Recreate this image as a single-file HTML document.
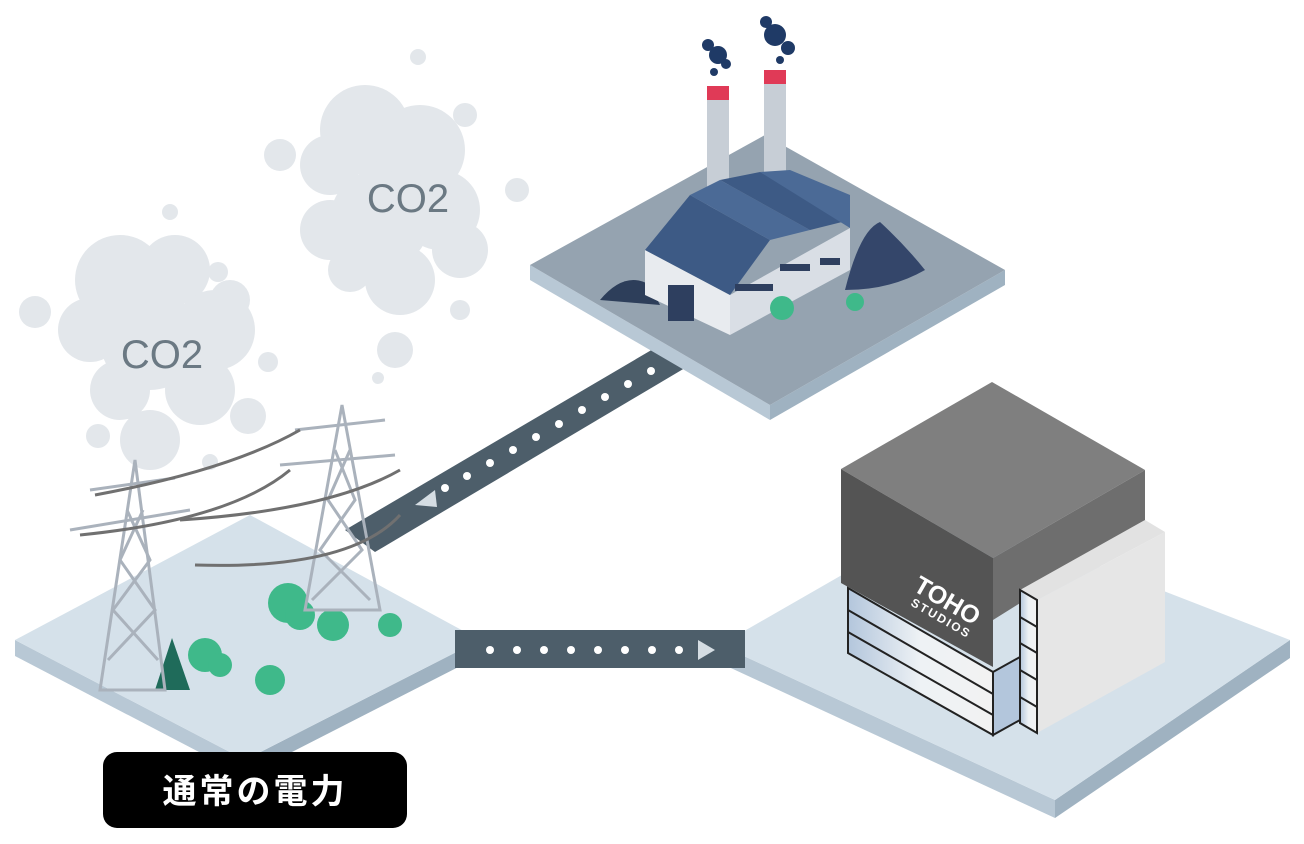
<!DOCTYPE html>
<html><head><meta charset="utf-8"><style>
html,body{margin:0;padding:0;background:#fff;}
svg{display:block}
</style></head><body>
<svg width="1304" height="844" viewBox="0 0 1304 844" xmlns="http://www.w3.org/2000/svg">
<defs>
<linearGradient id="gl" x1="0" x2="1"><stop offset="0" stop-color="#b3c6dc"/><stop offset="0.5" stop-color="#eef2f5"/><stop offset="1" stop-color="#f2f2f2"/></linearGradient>
</defs>
<!-- clouds -->
<g fill="#e3e7eb">
<circle cx="365" cy="130" r="45"/><circle cx="420" cy="150" r="45"/><circle cx="330" cy="165" r="30"/><circle cx="330" cy="230" r="30"/><circle cx="380" cy="220" r="50"/><circle cx="440" cy="210" r="40"/><circle cx="400" cy="280" r="35"/><circle cx="460" cy="250" r="28"/><circle cx="350" cy="270" r="22"/><circle cx="280" cy="155" r="16"/><circle cx="465" cy="115" r="12"/><circle cx="517" cy="190" r="12"/><circle cx="418" cy="57" r="8"/><circle cx="395" cy="350" r="18"/><circle cx="460" cy="310" r="10"/><circle cx="170" cy="212" r="8"/>
<circle cx="120" cy="280" r="45"/><circle cx="175" cy="270" r="35"/><circle cx="90" cy="330" r="32"/><circle cx="150" cy="340" r="50"/><circle cx="215" cy="330" r="40"/><circle cx="200" cy="390" r="35"/><circle cx="120" cy="390" r="30"/><circle cx="150" cy="440" r="30"/><circle cx="230" cy="300" r="20"/><circle cx="35" cy="312" r="16"/><circle cx="248" cy="416" r="18"/><circle cx="98" cy="436" r="12"/><circle cx="268" cy="362" r="10"/><circle cx="218" cy="272" r="10"/><circle cx="210" cy="462" r="8"/><circle cx="378" cy="378" r="6"/>
</g>
<text x="408" y="212" font-family="Liberation Sans, sans-serif" font-size="40" fill="#6b7983" text-anchor="middle">CO2</text>
<text x="162" y="368" font-family="Liberation Sans, sans-serif" font-size="40" fill="#6b7983" text-anchor="middle">CO2</text>
<!-- left platform -->
<polygon points="15,640 245,760 245,776 15,656" fill="#b8c8d5"/>
<polygon points="245,760 480,640 480,656 245,776" fill="#9fb2c1"/>
<polygon points="15,640 250,515 480,640 245,760" fill="#d5e1ea"/>
<!-- right platform -->
<polygon points="720,645 1055,800 1055,818 720,663" fill="#b8c8d5"/>
<polygon points="1055,800 1290,640 1290,658 1055,818" fill="#9fb2c1"/>
<polygon points="720,645 955,510 1290,640 1055,800" fill="#d5e1ea"/>
<!-- connectors -->
<polygon points="345,530 660,345 690,365 375,552" fill="#4d5e6a"/>
<rect x="455" y="630" width="290" height="38" fill="#4d5e6a"/>
<g fill="#fff">
<circle cx="445" cy="488" r="4"/><circle cx="467" cy="476" r="4"/><circle cx="490" cy="463" r="4"/><circle cx="513" cy="450" r="4"/><circle cx="536" cy="437" r="4"/><circle cx="559" cy="424" r="4"/><circle cx="582" cy="410" r="4"/><circle cx="605" cy="397" r="4"/><circle cx="628" cy="384" r="4"/><circle cx="651" cy="371" r="4"/>
<circle cx="490" cy="650" r="4"/><circle cx="517" cy="650" r="4"/><circle cx="544" cy="650" r="4"/><circle cx="571" cy="650" r="4"/><circle cx="598" cy="650" r="4"/><circle cx="625" cy="650" r="4"/><circle cx="652" cy="650" r="4"/><circle cx="679" cy="650" r="4"/>
</g>
<polygon points="415,505 435,490 437,507" fill="#d5dde3"/>
<polygon points="698,640 715,650 698,660" fill="#d5dde3"/>
<!-- factory platform -->
<polygon points="530,265 770,405 770,420 530,280" fill="#b8c8d5"/>
<polygon points="770,405 1005,270 1005,285 770,420" fill="#9fb2c1"/>
<polygon points="530,265 765,135 1005,270 770,405" fill="#95a3b0"/>
<!-- coal piles -->
<path d="M600,300 Q625,270 650,285 L660,305 Z" fill="#2d3e5a"/>
<path d="M845,290 Q860,230 880,222 Q905,245 925,270 Q890,290 845,290 Z" fill="#34466a"/>
<!-- chimneys -->
<rect x="707" y="90" width="22" height="120" fill="#c7ced6"/><rect x="707" y="86" width="22" height="14" fill="#e03a57"/>
<rect x="764" y="75" width="22" height="110" fill="#c7ced6"/><rect x="764" y="70" width="22" height="14" fill="#e03a57"/>
<g fill="#1f3a66"><circle cx="718" cy="55" r="9"/><circle cx="708" cy="45" r="6"/><circle cx="726" cy="64" r="5"/><circle cx="714" cy="72" r="4"/><circle cx="775" cy="35" r="11"/><circle cx="788" cy="48" r="7"/><circle cx="766" cy="22" r="6"/><circle cx="780" cy="60" r="4"/></g>
<!-- factory building -->
<polygon points="645,250 730,295 730,335 645,295" fill="#e8ebef"/>
<polygon points="730,295 850,228 850,270 730,335" fill="#d9dee5"/>
<polygon points="645,250 690,195 770,240 730,295" fill="#3d5a85"/>
<polygon points="690,195 720,180 810,230 770,240" fill="#4b6a96"/>
<polygon points="720,180 760,172 850,220 810,230" fill="#3d5a85"/>
<polygon points="760,172 790,170 850,195 850,228" fill="#4b6a96"/>
<rect x="668" y="285" width="26" height="36" fill="#2e3f5f"/>
<g fill="#2e3f5f"><rect x="735" y="284" width="38" height="7"/><rect x="780" y="264" width="30" height="7"/><rect x="820" y="258" width="20" height="7"/></g>
<!-- trees -->
<g fill="#3fb98a"><circle cx="782" cy="308" r="12"/><circle cx="855" cy="302" r="9"/>
<circle cx="288" cy="603" r="20"/><circle cx="300" cy="615" r="15"/><circle cx="333" cy="625" r="16"/><circle cx="205" cy="655" r="17"/><circle cx="220" cy="665" r="12"/><circle cx="270" cy="680" r="15"/><circle cx="390" cy="625" r="12"/></g>
<polygon points="172,638 155,690 190,690" fill="#1f6b5a"/>
<!-- towers -->
<g stroke="#aab2bc" stroke-width="3" fill="none">
<polygon points="135,460 100,690 165,690"/>
<path d="M127,510 L150,560 L113,610 L158,660 M143,510 L120,560 L155,610 L108,660"/>
<polygon points="342,405 305,610 380,610"/>
<path d="M335,450 L355,500 L320,550 L370,600 M350,450 L328,500 L362,550 L312,600"/>
<line x1="70" y1="530" x2="190" y2="510"/><line x1="90" y1="490" x2="175" y2="478"/>
<line x1="280" y1="465" x2="395" y2="455"/><line x1="295" y1="430" x2="385" y2="420"/>
</g>
<g stroke="#707070" stroke-width="3" fill="none">
<path d="M95,495 Q230,470 300,430"/><path d="M80,535 Q230,520 290,470"/><path d="M180,520 Q330,510 400,470"/><path d="M195,565 Q350,570 400,515"/>
</g>
<!-- TOHO building -->
<polygon points="848,588 993,672 993,735 848,653" fill="url(#gl)" stroke="#222" stroke-width="2"/>
<line x1="848" y1="610" x2="993" y2="694" stroke="#222" stroke-width="2"/><line x1="848" y1="632" x2="993" y2="715" stroke="#222" stroke-width="2"/>
<polygon points="993,672 1020,657 1020,720 993,735" fill="#b3c6dc" stroke="#222" stroke-width="2"/>
<polygon points="841,469 992,382 1145,470 993,558" fill="#7f7f7f"/>
<polygon points="841,469 993,558 993,667 841,583" fill="#545454"/>
<polygon points="993,558 1145,470 1145,525 993,620" fill="#6e6e6e"/>
<polygon points="1020,590 1145,520 1165,532 1037,600" fill="#e2e2e2"/>
<polygon points="1037,600 1165,532 1165,662 1037,733" fill="#e6e6e6"/>
<polygon points="1020,590 1037,600 1037,733 1020,723" fill="url(#gl)" stroke="#222" stroke-width="2"/>
<g stroke="#222" stroke-width="2"><line x1="1020" y1="617" x2="1037" y2="627"/><line x1="1020" y1="643" x2="1037" y2="653"/><line x1="1020" y1="670" x2="1037" y2="680"/><line x1="1020" y1="697" x2="1037" y2="707"/></g>
<text transform="translate(912,590) rotate(30)" font-family="Liberation Sans, sans-serif" font-weight="bold" font-size="25" fill="#fff">TOHO</text>
<text transform="translate(910,605) rotate(30)" font-family="Liberation Sans, sans-serif" font-weight="bold" font-size="12" fill="#fff" letter-spacing="2">STUDIOS</text>
<!-- label -->
<rect x="103" y="752" width="304" height="76" rx="14" fill="#000"/>
<text x="255" y="803" font-family="Liberation Sans, 'Noto Sans CJK JP', sans-serif" font-weight="bold" font-size="34" fill="#fff" text-anchor="middle" letter-spacing="3">通常の電力</text>
</svg>
</body></html>
